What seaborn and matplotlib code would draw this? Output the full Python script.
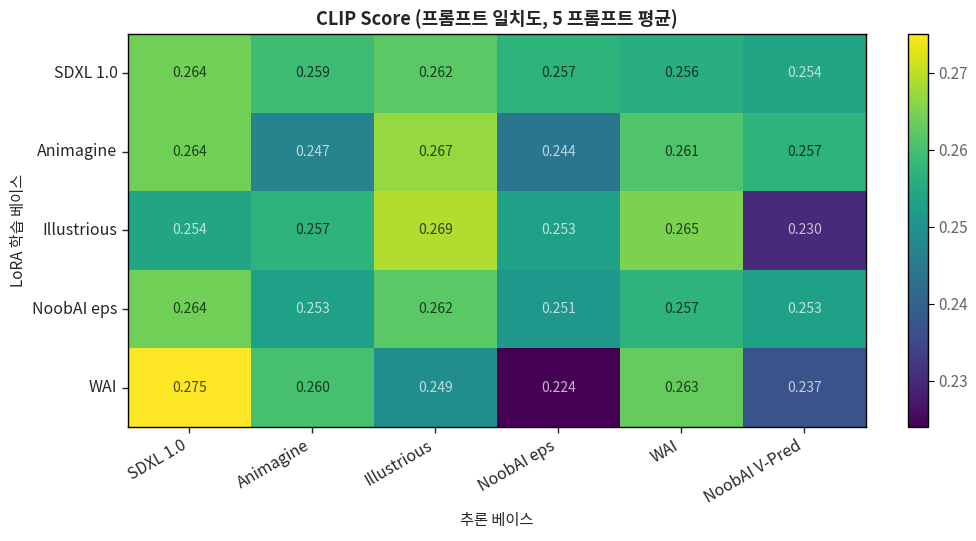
import numpy as np
import pandas as pd
import seaborn as sns
import matplotlib
import matplotlib.pyplot as plt

matplotlib.use('Agg')

# data
lora_bases = ["SDXL 1.0", "Animagine", "Illustrious", "NoobAI eps", "WAI"]
infer_bases = ["SDXL 1.0", "Animagine", "Illustrious", "NoobAI eps", "WAI", "NoobAI V-Pred"]
sdxl_row = [0.264, 0.259, 0.262, 0.257, 0.256, 0.254]
animagine_row = [0.264, 0.247, 0.267, 0.244, 0.261, 0.257]
illustrious_row = [0.254, 0.257, 0.269, 0.253, 0.265, 0.230]
noobai_row = [0.264, 0.253, 0.262, 0.251, 0.257, 0.253]
wai_row = [0.275, 0.260, 0.249, 0.224, 0.263, 0.237]

df = pd.DataFrame([sdxl_row, animagine_row, illustrious_row, noobai_row, wai_row],
                  index=lora_bases, columns=infer_bases)

sns.set_style("white")
plt.rcParams['font.family'] = ['Noto Sans CJK KR', 'DejaVu Sans']

fig = plt.figure(figsize=(9.76, 5.41), dpi=100)
ax = fig.add_axes([0.131, 0.211, 0.756, 0.726])
cax = fig.add_axes([0.930, 0.211, 0.0205, 0.726])
sns.heatmap(df, annot=False, cmap="viridis", ax=ax, cbar_ax=cax)

# annotations: light text below the mean, dark text above
mean_val = df.values.mean()
for i, row_name in enumerate(df.index):
    for j, col_name in enumerate(df.columns):
        v = df.loc[row_name, col_name]
        col = "white" if v < mean_val else "black"
        ax.text(j + 0.5, i + 0.5, f"{v:.3f}", ha="center", va="center",
                color=col, alpha=0.7, fontsize=10)

# frame around the heatmap
for s in ax.spines.values():
    s.set_visible(True)
    s.set_color("black")
    s.set_linewidth(1)

cbar = ax.collections[0].colorbar
cbar.outline.set_visible(True)
cbar.outline.set_edgecolor("black")
cbar.outline.set_linewidth(1)
cbar.set_ticks([0.23, 0.24, 0.25, 0.26, 0.27])
cbar.ax.tick_params(labelsize=11, length=4, colors="black", labelcolor="#666666")

ax.set_title("CLIP Score (프롬프트 일치도, 5 프롬프트 평균)", fontsize=13, fontweight="bold")
ax.set_xlabel("추론 베이스", fontsize=11)
ax.set_ylabel("LoRA 학습 베이스", fontsize=11)
ax.tick_params(axis="both", length=4, width=1, bottom=True, left=True)
ax.set_xticklabels(infer_bases, rotation=30, ha="right", fontsize=11.5)
ax.set_yticklabels(lora_bases, rotation=0, fontsize=11.5)

plt.savefig("out.png", dpi=100)
